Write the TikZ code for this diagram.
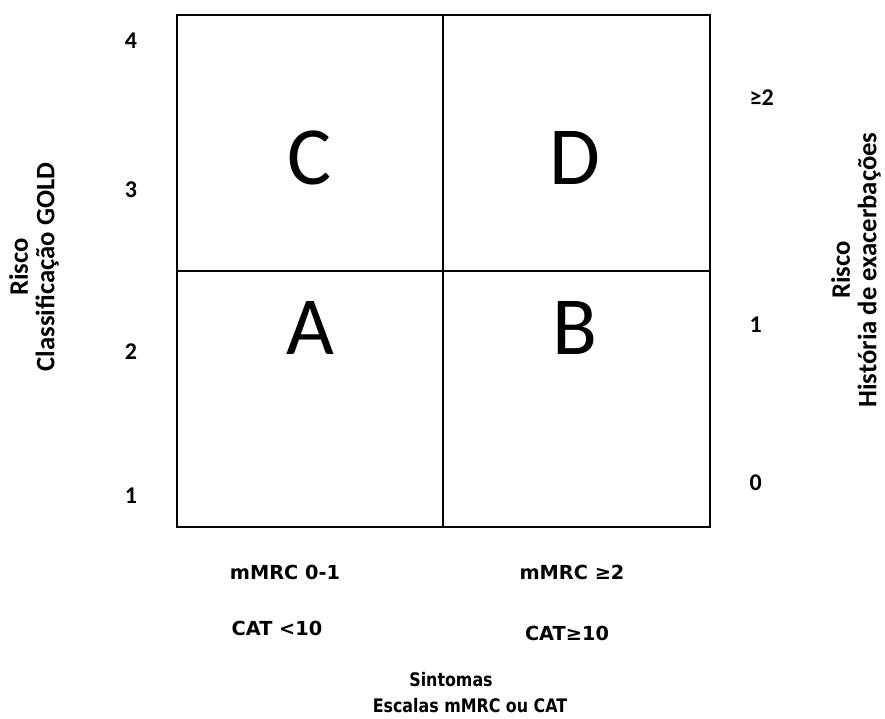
\documentclass[tikz,border=0pt]{standalone}
\usepackage{fontspec}
\setmainfont{Carlito}
\newfontfamily\scalesfont{DejaVu Sans}
\newfontfamily\titlefont[FakeStretch=0.85]{DejaVu Sans}
\begin{document}
\begin{tikzpicture}[x=0.75pt,y=-0.75pt,
    grid/.style={line width=1.5pt},
    quad/.style={font=\fontsize{62}{62}\selectfont},
    lvl/.style={font=\bfseries\fontsize{18}{18}\selectfont},
    axis/.style={font=\bfseries\fontsize{20}{20}\selectfont, align=center, rotate=90},
    scales/.style={font=\scalesfont\bfseries\fontsize{14.5}{16}\selectfont},
    symtitle/.style={font=\titlefont\bfseries\fontsize{14}{16}\selectfont}]
    \useasboundingbox (0,0) rectangle (885,718);

    % quadrant grid
    \coordinate (tl) at (177,15);
    \coordinate (br) at (710,527);
    \coordinate (tm) at (443,15);
    \coordinate (bm) at (443,527);
    \coordinate (ml) at (177,271);
    \coordinate (mr) at (710,271);
    \draw[grid] (tl) rectangle (br);
    \draw[grid] (tm) -- (bm);
    \draw[grid] (ml) -- (mr);

    % groups
    \node[quad] (C) at (310,158) {C};
    \node[quad] (D) at (575,158) {D};
    \node[quad] (A) at (310,328) {A};
    \node[quad] (B) at (575,328) {B};

    % GOLD levels
    \node[lvl] (g4) at (131,41) {4};
    \node[lvl] (g3) at (131,190) {3};
    \node[lvl] (g2) at (131,352) {2};
    \node[lvl] (g1) at (131,496) {1};

    % exacerbations
    \node[lvl, anchor=west] (e2) at (745,98) {≥2};
    \node[lvl, anchor=west] (e1) at (745,325) {1};
    \node[lvl, anchor=west] (e0) at (745,483) {0};

    % axis titles
    \node[axis] (gold) at (34,267) {Risco\\Classificação GOLD};
    \node[axis] (hist) at (856,270) {Risco\\História de exacerbações};

    % symptom scales
    \node[scales] (mlow) at (285,572) {mMRC 0-1};
    \node[scales] (mhigh) at (572,572) {mMRC ≥2};
    \node[scales] (clow) at (277,628) {CAT <10};
    \node[scales] (chigh) at (567,633) {CAT≥10};
    \node[symtitle] (sint) at (451,680) {Sintomas};
    \node[symtitle] (esc) at (470,706) {Escalas mMRC ou CAT};
\end{tikzpicture}
\end{document}
